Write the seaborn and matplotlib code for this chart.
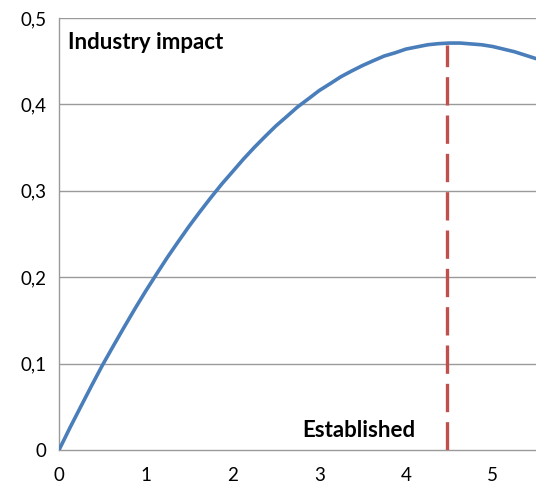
import matplotlib
matplotlib.use("Agg")
import matplotlib.pyplot as plt
import seaborn as sns
import pandas as pd
from matplotlib.ticker import FuncFormatter

# Data
x_values = [0.0, 0.125, 0.25, 0.375, 0.5, 0.625, 0.75, 0.875, 1.0, 1.125, 1.25,
            1.375, 1.5, 1.625, 1.75, 1.875, 2.0, 2.125, 2.25, 2.375, 2.5, 2.625,
            2.75, 2.875, 3.0, 3.125, 3.25, 3.375, 3.5, 3.625, 3.75, 3.875, 4.0,
            4.125, 4.25, 4.375, 4.5, 4.625, 4.75, 4.875, 5.0, 5.125, 5.25,
            5.375, 5.5]
impact = [0.0, 0.0255, 0.050, 0.0743, 0.098, 0.1202, 0.142, 0.1634, 0.184,
          0.2037, 0.223, 0.2412, 0.259, 0.2758, 0.292, 0.3076, 0.322, 0.3365,
          0.350, 0.3627, 0.375, 0.3859, 0.397, 0.4064, 0.416, 0.4239, 0.432,
          0.4387, 0.445, 0.4506, 0.456, 0.4597, 0.464, 0.4665, 0.469, 0.4703,
          0.471, 0.4710, 0.470, 0.4690, 0.467, 0.4640, 0.461, 0.4570, 0.453]
established_x = 4.47
established_top = 0.469
x_ticks = [0, 1, 2, 3, 4, 5]
y_ticks = [0, 0.1, 0.2, 0.3, 0.4, 0.5]

df = pd.DataFrame({"x": x_values, "impact": impact})

sns.set_theme(style="white")
plt.rcParams['font.family'] = ['Lato', 'DejaVu Sans']

fig = plt.figure(figsize=(5.36, 4.86), dpi=100)
ax = fig.add_axes([59/536, 36/486, 1 - 59/536, 432/486])

grid_c = "#9a9a9a"
ax.set_xlim(0, 5.5)
ax.set_ylim(0, 0.5)
ax.set_yticks(y_ticks)
ax.set_xticks(x_ticks)
for yv in y_ticks[1:]:
    ax.axhline(yv, color=grid_c, lw=1.0, zorder=0)

sns.lineplot(data=df, x="x", y="impact", ax=ax, color="#4A7EBB", lw=2.6,
             zorder=3, legend=False)

ax.plot([established_x, established_x], [0, established_top], color="#C0504D",
        lw=2.4, linestyle=(0, (8.5, 3.0)), solid_capstyle="butt",
        dash_capstyle="butt", zorder=4)

for s in ["top", "right"]:
    ax.spines[s].set_visible(False)
for s in ["left", "bottom"]:
    ax.spines[s].set_color(grid_c)
    ax.spines[s].set_linewidth(1.0)

ax.tick_params(axis="both", which="both", direction="out", length=5, width=1.0,
               color=grid_c, labelsize=13.5, labelcolor="#000000")
ax.tick_params(axis="y", pad=4)
ax.tick_params(axis="x", pad=7)
ax.yaxis.set_major_formatter(FuncFormatter(
    lambda v, p: "0" if v == 0 else f"{v:.1f}".replace(".", ",")))
ax.xaxis.set_major_formatter(FuncFormatter(lambda v, p: f"{int(round(v))}"))
ax.set_xlabel("")
ax.set_ylabel("")

ax.text(0.10, 0.472, "Industry impact", fontsize=16, fontweight="bold",
        ha="left", va="center", color="#000000")
ax.text(2.81, 0.023, "Established", fontsize=16, fontweight="bold",
        ha="left", va="center", color="#000000")

fig.savefig("out.png", dpi=100)
